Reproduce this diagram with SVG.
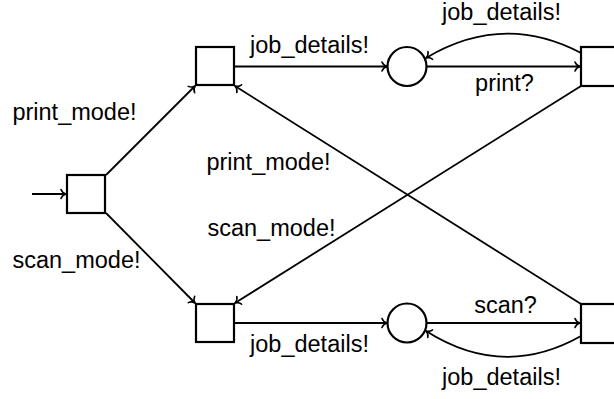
<svg xmlns="http://www.w3.org/2000/svg" width="614" height="399" viewBox="0 0 614 399">
  <style>
    .state { fill: #ffffff; stroke: #000000; stroke-width: 2.2; }
    .edge { fill: none; stroke: #000000; stroke-width: 1.8; marker-end: url(#to); }
    .label { font-family: "Liberation Sans", Arial, sans-serif; font-size: 23.5px; fill: #000000; text-anchor: middle; }
  </style>
  <defs>
    <marker id="to" viewBox="-6 -6 8 12" refX="0" refY="0" markerWidth="8" markerHeight="12" markerUnits="userSpaceOnUse" orient="auto">
      <path d="M-5,-4.5 C-4,-1.8 -1.5,-0.4 0,0 C-1.5,0.4 -4,1.8 -5,4.5" fill="none" stroke="#000000" stroke-width="1.6" stroke-linecap="round"/>
    </marker>
  </defs>

  <g id="connectors">
    <!-- initial arrow -->
    <path class="edge" d="M32,194 L66,194"/>
    <!-- start to the two mode states -->
    <path class="edge" d="M106,175 L195,86"/>
    <path class="edge" d="M106,213 L195,303"/>
    <!-- upper row -->
    <path class="edge" d="M234,66.5 L387,66.5"/>
    <path class="edge" d="M427,66.5 L580,66.5"/>
    <path class="edge" d="M581,53 Q503,12 426,58"/>
    <!-- lower row -->
    <path class="edge" d="M234,323 L387,323"/>
    <path class="edge" d="M427,323 L580,323"/>
    <path class="edge" d="M581,336 Q503,380 426,331"/>
    <!-- crossing mode switches -->
    <path class="edge" d="M581,86 L235,303"/>
    <path class="edge" d="M581,304 L235,86"/>
  </g>

  <g id="start"><rect class="state" x="67" y="175" width="38" height="38"/></g>
  <g id="print_state"><rect class="state" x="196" y="47" width="38" height="38"/></g>
  <g id="scan_state"><rect class="state" x="196" y="304" width="38" height="38"/></g>
  <g id="print_wait"><circle class="state" cx="407" cy="66.5" r="19.5"/></g>
  <g id="scan_wait"><circle class="state" cx="407" cy="323" r="19.5"/></g>
  <g id="printer"><rect class="state" x="581" y="47" width="38" height="39"/></g>
  <g id="scanner"><rect class="state" x="581" y="304" width="38" height="39"/></g>

  <g id="labels">
    <text class="label" x="74.5" y="120">print_mode!</text>
    <text class="label" x="76.5" y="268">scan_mode!</text>
    <text class="label" x="309.5" y="53">job_details!</text>
    <text class="label" x="309.5" y="352">job_details!</text>
    <text class="label" x="268.5" y="170">print_mode!</text>
    <text class="label" x="271.5" y="236">scan_mode!</text>
    <text class="label" x="501.5" y="20">job_details!</text>
    <text class="label" x="504.5" y="91">print?</text>
    <text class="label" x="505.5" y="313">scan?</text>
    <text class="label" x="501.5" y="385">job_details!</text>
  </g>
</svg>
